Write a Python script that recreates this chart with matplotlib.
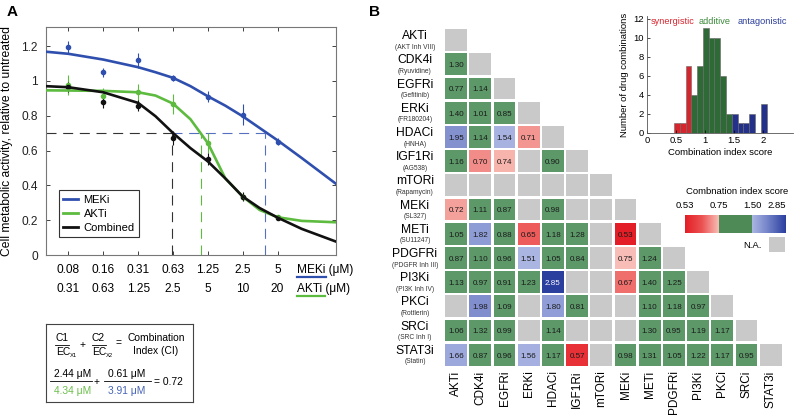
import numpy as np
import matplotlib.pyplot as plt
import matplotlib.transforms as mtransforms
from matplotlib.colors import LinearSegmentedColormap
from matplotlib.patches import Rectangle
from matplotlib.lines import Line2D

plt.rcParams['font.family'] = ['Liberation Sans', 'DejaVu Sans']

# ---------------- panel A data ----------------
meki_dose = [0.078125, 0.15625, 0.3125, 0.625, 1.25, 2.5, 5]
meki_labels = ['0.08', '0.16', '0.31', '0.63', '1.25', '2.5', '5']
akti_labels = ['0.31', '0.63', '1.25', '2.5', '5', '10', '20']
akti_per_meki = 4  # AKTi dose is 4x the MEKi dose

meki_mean = [1.194, 1.051, 1.118, 1.017, 0.910, 0.807, 0.650]
meki_err = [0.033, 0.026, 0.043, 0.020, 0.033, 0.060, 0.020]
akti_mean = [0.979, 0.916, 0.935, 0.868, 0.643, 0.336, 0.217]
akti_err = [0.058, 0.043, 0.048, 0.058, 0.058, 0.020, 0.010]
comb_mean = [0.964, 0.879, 0.858, 0.672, 0.551, 0.336, 0.215]
comb_err = [0.030, 0.035, 0.030, 0.040, 0.035, 0.025, 0.010]

# fitted curves (x in MEKi uM)
fit_x = [0.05, 0.078, 0.156, 0.3125, 0.442, 0.625, 0.885, 1.25, 1.77, 2.5, 3.5, 5, 8.1, 16]
meki_fit = [1.168, 1.156, 1.123, 1.079, 1.050, 1.018, 0.970, 0.912, 0.858, 0.797, 0.730, 0.659, 0.557, 0.409]
akti_fit = [0.946, 0.945, 0.943, 0.935, 0.916, 0.870, 0.780, 0.643, 0.440, 0.336, 0.259, 0.217, 0.196, 0.188]
comb_fit = [0.970, 0.964, 0.935, 0.874, 0.797, 0.701, 0.614, 0.538, 0.440, 0.336, 0.270, 0.215, 0.150, 0.077]

ec_level = 0.7
comb_akti_um = 2.44
comb_meki_um = 0.61
ec_akti_um = 4.34
ec_meki_um = 3.91
ci_value = 0.72

# ---------------- panel B data ----------------
drugs = ['AKTi', 'CDK4i', 'EGFRi', 'ERKi', 'HDACi', 'IGF1Ri', 'mTORi', 'MEKi',
         'METi', 'PDGFRi', 'PI3Ki', 'PKCi', 'SRCi', 'STAT3i']
compounds = ['(AKT Inh VIII)', '(Ryuvidine)', '(Gefitinib)', '(FR180204)', '(HNHA)',
             '(AG538)', '(Rapamycin)', '(SL327)', '(SU11247)', '(PDGFR Inh III)',
             '(PI3K Inh IV)', '(Rottlerin)', '(SRC Inh I)', '(Statin)']
na = np.nan
ci_rows = [
    [],
    [1.30],
    [0.77, 1.14],
    [1.40, 1.01, 0.85],
    [1.95, 1.14, 1.54, 0.71],
    [1.16, 0.70, 0.74, na, 0.90],
    [na, na, na, na, na, na],
    [0.72, 1.11, 0.87, na, 0.98, na, na],
    [1.05, 1.82, 0.88, 0.65, 1.18, 1.28, na, 0.53],
    [0.87, 1.10, 0.96, 1.51, 1.05, 0.84, na, 0.75, 1.24],
    [1.13, 0.97, 0.91, 1.23, 2.85, na, na, 0.67, 1.40, 1.25],
    [na, 1.98, 1.09, na, 1.80, 0.81, na, na, 1.10, 1.18, 0.97],
    [1.06, 1.32, 0.99, na, 1.14, na, na, na, 1.30, 0.95, 1.19, 1.17],
    [1.66, 0.87, 0.96, 1.56, 1.17, 0.57, na, 0.98, 1.31, 1.05, 1.22, 1.17, 0.95],
]
cbar_ticks = [0.53, 0.75, 1.50, 2.85]

hist_centers = [0.515, 0.615, 0.715, 0.815, 0.915, 1.015, 1.115, 1.215, 1.315,
                1.415, 1.515, 1.615, 1.715, 1.815, 2.015]
hist_counts = [1, 1, 7, 4, 7, 11, 10, 10, 6, 2, 2, 1, 1, 2, 3]
hist_class = ['syn'] * 3 + ['add'] * 7 + ['ant'] * 5

# ---------------- colours ----------------
c_meki = '#2f4fae'
c_akti = '#5dbb3f'
c_comb = '#111111'
na_gray = '#c9c9c9'
cell_green = '#5c9868'
bar_cols = {'syn': '#d7252e', 'add': '#2d6a35', 'ant': '#23318a'}
red_cmap = LinearSegmentedColormap.from_list('syn', ['#e41e26', '#ec5252', '#f7bdb6'])
blue_cmap = LinearSegmentedColormap.from_list('ant', ['#aab5e2', '#6f7fc6', '#2b3f9f'])


def ci_color(v):
    if np.isnan(v):
        return na_gray
    if v <= cbar_ticks[1]:
        return red_cmap((v - cbar_ticks[0]) / (cbar_ticks[1] - cbar_ticks[0]))
    if v <= cbar_ticks[2]:
        return cell_green
    return blue_cmap((v - cbar_ticks[2]) / (cbar_ticks[3] - cbar_ticks[2]))


W, H = 800, 420


def fx(x):
    return x / W


def fy(y):
    return 1 - y / H


fig = plt.figure(figsize=(8, 4.2), dpi=100)

# ================= panel A =================
axA = fig.add_axes([fx(46), fy(255), (336 - 46) / W, (255 - 27) / H])
axA.set_xscale('log', base=2)
axA.set_xlim(0.05, 16)
axA.set_ylim(0, 1.31)
x0 = axA.get_xlim()[0]

dash = (9, 6)
axA.plot([x0, comb_meki_um], [ec_level, ec_level], color='#333333', lw=0.8, dashes=dash)
axA.plot([comb_meki_um, ec_meki_um], [ec_level, ec_level], color='#5570c0', lw=0.8, dashes=dash)
axA.plot([comb_meki_um, comb_meki_um], [0, ec_level], color='#333333', lw=0.8, dashes=dash)
axA.plot([ec_akti_um / akti_per_meki] * 2, [0, ec_level], color=c_akti, lw=0.8, dashes=dash)
axA.plot([ec_meki_um, ec_meki_um], [0, ec_level], color='#5570c0', lw=0.8, dashes=dash)

for mean, err, fit, col in [(meki_mean, meki_err, meki_fit, c_meki),
                            (akti_mean, akti_err, akti_fit, c_akti),
                            (comb_mean, comb_err, comb_fit, c_comb)]:
    axA.errorbar(meki_dose, mean, yerr=err, fmt='o', ms=3, color=col,
                 elinewidth=0.8, capsize=0, zorder=3)
    axA.plot(fit_x, fit, color=col, lw=1.9, zorder=4)

axA.xaxis.set_minor_locator(plt.NullLocator())
axA.set_xticks(meki_dose)
axA.set_xticklabels([])
axA.set_yticks([0, 0.2, 0.4, 0.6, 0.8, 1.0, 1.2])
axA.set_yticklabels(['0', '0.2', '0.4', '0.6', '0.8', '1', '1.2'])
axA.tick_params(direction='in', length=3, top=True, right=True, labelsize=8.6,
                width=0.6, colors='#222222', pad=6)
for s in axA.spines.values():
    s.set_linewidth(0.8)
    s.set_color('#777777')
axA.set_ylabel('Cell metabolic activity, relative to untreated', fontsize=8.7, labelpad=6)

trans = mtransforms.blended_transform_factory(axA.transData, axA.transAxes)
for d, lm, la in zip(meki_dose, meki_labels, akti_labels):
    axA.text(d, -0.066, lm, transform=trans, ha='center', va='center', fontsize=8.6)
    axA.text(d, -0.149, la, transform=trans, ha='center', va='center', fontsize=8.6)
fig.text(fx(297), fy(270), 'MEKi (\u03bcM)', ha='left', va='center', fontsize=8.6)
fig.text(fx(297), fy(289), 'AKTi (\u03bcM)', ha='left', va='center', fontsize=8.6)
fig.add_artist(Line2D([fx(297), fx(326)], [fy(277), fy(277)], color=c_meki, lw=1.6))
fig.add_artist(Line2D([fx(297), fx(325)], [fy(296), fy(296)], color=c_akti, lw=1.6))

handles = [Line2D([], [], color=c, lw=2) for c in (c_meki, c_akti, c_comb)]
leg = axA.legend(handles, ['MEKi', 'AKTi', 'Combined'], loc='lower left',
                 bbox_to_anchor=(0.045, 0.079), borderaxespad=0, fontsize=8,
                 handlelength=1.3, handletextpad=0.5, labelspacing=0.35,
                 fancybox=False, framealpha=1, edgecolor='#333333')
leg.get_frame().set_linewidth(0.8)

fig.text(fx(12), fy(12), 'A', fontsize=11, fontweight='bold', ha='center', va='center')
fig.text(fx(374), fy(12), 'B', fontsize=11, fontweight='bold', ha='center', va='center')

# formula box
axF = fig.add_axes([fx(46), fy(402), 147 / W, 78 / H])
axF.set_xticks([])
axF.set_yticks([])
for s in axF.spines.values():
    s.set_linewidth(0.8)
    s.set_color('#444444')
axF.set_xlim(46, 193)
axF.set_ylim(402, 324)
fs = 7.4
axF.text(62, 338, 'C1', ha='center', va='center', fontsize=fs)
axF.plot([55, 69], [344.5, 344.5], color='k', lw=0.6)
axF.text(56, 352, 'EC', ha='left', va='center', fontsize=fs)
axF.text(70, 355, 'X1', ha='left', va='center', fontsize=4.2)
axF.text(83, 345, '+', ha='center', va='center', fontsize=fs)
axF.text(98, 338, 'C2', ha='center', va='center', fontsize=fs)
axF.plot([92, 106], [344.5, 344.5], color='k', lw=0.6)
axF.text(92, 352, 'EC', ha='left', va='center', fontsize=fs)
axF.text(106, 355, 'X2', ha='left', va='center', fontsize=4.2)
axF.text(118, 343.5, '=', ha='center', va='center', fontsize=fs)
axF.text(156, 338, 'Combination', ha='center', va='center', fontsize=fs)
axF.text(156, 351, 'Index (CI)', ha='center', va='center', fontsize=fs)
axF.text(73, 373.5, f'{comb_akti_um:.2f} \u03bcM', ha='center', va='center', fontsize=fs)
axF.plot([50, 92], [381, 381], color='k', lw=0.6)
axF.text(73, 391, f'{ec_akti_um:.2f} \u03bcM', ha='center', va='center', fontsize=fs, color='#6cbf4c')
axF.text(97, 382, '+', ha='center', va='center', fontsize=fs)
axF.text(127, 373.5, f'{comb_meki_um:.2f} \u03bcM', ha='center', va='center', fontsize=fs)
axF.plot([104, 151], [381, 381], color='k', lw=0.6)
axF.text(127, 391, f'{ec_meki_um:.2f} \u03bcM', ha='center', va='center', fontsize=fs, color='#4563b5')
axF.text(154, 382, f'= {ci_value:.2f}', ha='left', va='center', fontsize=fs)

# ================= panel B heatmap =================
n = len(drugs)
pitch = 24.2
axH = fig.add_axes([fx(444), fy(28 + n * pitch), n * pitch / W, n * pitch / H])
axH.set_xlim(-0.5, n - 0.5)
axH.set_ylim(n - 0.5, -0.5)
axH.axis('off')
for i in range(n):
    vals = list(ci_rows[i]) + [na]  # diagonal is N.A.
    for j, v in enumerate(vals):
        axH.add_patch(Rectangle((j - 0.45, i - 0.45), 0.9, 0.9, facecolor=ci_color(v),
                                edgecolor='none'))
        if not np.isnan(v):
            tc = 'white' if v > 2.5 else '#1a1a1a'
            axH.text(j, i + 0.06, f'{v:.2f}', ha='center', va='center', fontsize=5.8, color=tc)
    axH.text(-1.7, i - 0.16, drugs[i], ha='center', va='center', fontsize=8.7)
    axH.text(-1.7, i + 0.30, compounds[i], ha='center', va='center', fontsize=4.8,
             color='#333333')
    axH.text(i, n - 0.5 + 0.15, drugs[i], ha='center', va='top', rotation=90, fontsize=8.5)

# colour scale legend
fig.text(fx(737), fy(192), 'Combnation index score', ha='center', va='center', fontsize=6.8)
axC = fig.add_axes([fx(685), fy(233), 101 / W, 18 / H])
grad = np.linspace(0, 1, 64)[None, :]
axC.imshow(grad, cmap=red_cmap, extent=(0, 1, 0, 1), aspect='auto')
axC.add_patch(Rectangle((1, 0), 1, 1, facecolor='#4e8a55', edgecolor='none'))
axC.imshow(grad, cmap=blue_cmap, extent=(2, 3, 0, 1), aspect='auto')
axC.set_xlim(0, 3)
axC.set_ylim(0, 1)
axC.axis('off')
for k, t in enumerate(cbar_ticks):
    axC.text(k, 1.55, f'{t:.2f}', ha='right' if k == 3 else 'center', va='center',
             fontsize=6.8, transform=axC.transData)
fig.text(fx(762), fy(246), 'N.A.', ha='right', va='center', fontsize=6.8)
axN = fig.add_axes([fx(769), fy(252), 16 / W, 15 / H])
axN.set_facecolor(na_gray)
axN.set_xticks([])
axN.set_yticks([])
for s in axN.spines.values():
    s.set_visible(False)

# ================= histogram inset =================
axS = fig.add_axes([fx(647), fy(133), (793 - 647) / W, (133 - 16) / H])
axS.bar(hist_centers, hist_counts, width=0.1, color=[bar_cols[c] for c in hist_class],
        edgecolor='#666666', linewidth=0.4)
axS.set_xlim(0, 2.52)
axS.set_ylim(0, 12.3)
axS.set_xticks([0, 0.5, 1, 1.5, 2])
axS.set_xticklabels(['0', '0.5', '1', '1.5', '2'])
axS.set_yticks(range(0, 13, 2))
axS.tick_params(direction='in', length=2, labelsize=6.8, width=0.5, pad=2)
axS.spines['top'].set_visible(False)
axS.spines['right'].set_visible(False)
for s in ('left', 'bottom'):
    axS.spines[s].set_linewidth(0.6)
    axS.spines[s].set_color('#555555')
axS.set_xlabel('Combination index score', fontsize=6.8, labelpad=2)
axS.set_ylabel('Number of drug combinations', fontsize=6.8, labelpad=3)
fig.text(fx(651), fy(21), 'synergistic', color=bar_cols['syn'], fontsize=6.6, va='center')
fig.text(fx(699), fy(21), 'additive', color='#3a8a3a', fontsize=6.6, va='center')
fig.text(fx(738), fy(21), 'antagonistic', color='#2a3d9a', fontsize=6.6, va='center')

fig.savefig('out.png', dpi=100)
